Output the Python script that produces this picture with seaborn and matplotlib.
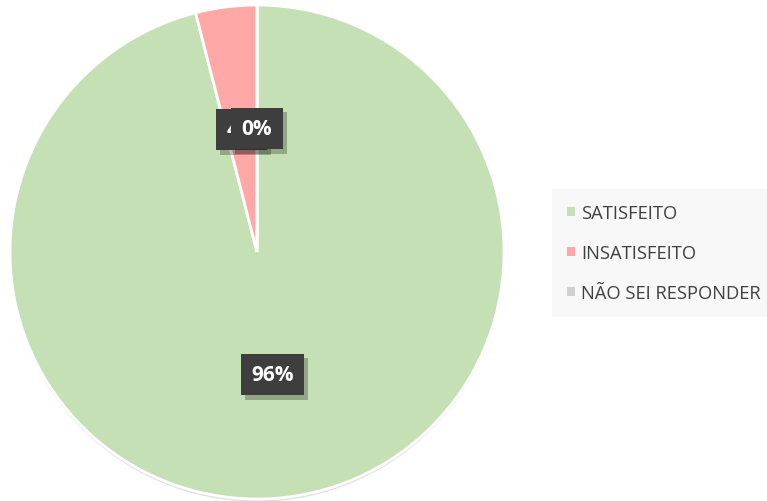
import math
import matplotlib
matplotlib.use("Agg")
import matplotlib.pyplot as plt
import matplotlib.patheffects as pe
from matplotlib.patches import Patch
import seaborn as sns

categories = ["SATISFEITO", "INSATISFEITO", "NÃO SEI RESPONDER"]
values = [96, 4, 0]
colors = ["#c5e0b4", "#ffa8a8", "#d0d0d0"]

sns.set_theme(style="white")
plt.rcParams["font.family"] = ["Open Sans", "DejaVu Sans"]

fig = plt.figure(figsize=(7.67, 5.02), dpi=100)
fig.patch.set_facecolor("white")
ax = fig.add_axes([10 / 767, 2 / 502, 494 / 767, 494 / 502])

wedges, _ = ax.pie(
    values,
    colors=colors,
    startangle=90,
    counterclock=False,
    radius=1.0,
    wedgeprops=dict(edgecolor="white", linewidth=2),
)
for w in wedges:
    w.set_path_effects([
        pe.SimplePatchShadow(offset=(0, -2), shadow_rgbFace="black", alpha=0.12),
        pe.Normal(),
    ])

# value labels at half radius, centred on each slice
total = sum(values)
start = 90.0
for v in values:
    sweep = 360.0 * v / total
    mid = math.radians(start - sweep / 2)
    x, y = 0.5 * math.cos(mid), 0.5 * math.sin(mid)
    t = ax.text(
        x, y, f"{v}%", ha="center", va="center", color="white",
        fontsize=15, fontweight="bold", zorder=5,
        bbox=dict(boxstyle="square,pad=0.5", facecolor="#3e3e3e", edgecolor="none"),
    )
    t.get_bbox_patch().set_path_effects([
        pe.SimplePatchShadow(offset=(3, -3), shadow_rgbFace="black", alpha=0.25),
        pe.Normal(),
    ])
    start -= sweep

ax.set_xlim(-1.0, 1.0)
ax.set_ylim(-1.0, 1.0)
ax.set_aspect("equal")
ax.axis("off")

handles = [Patch(facecolor=c, edgecolor="none") for c in colors]
leg = fig.legend(
    handles, categories,
    loc="center left", bbox_to_anchor=(552 / 767, 1 - 254 / 502),
    frameon=True, facecolor="#f7f7f7", edgecolor="none", fancybox=False,
    fontsize=13.2, labelcolor="#404040",
    handlelength=0.45, handleheight=0.45, handletextpad=0.35,
    labelspacing=1.2, borderpad=0.8, borderaxespad=0,
)

fig.savefig("out.png", dpi=100, facecolor=fig.get_facecolor())
